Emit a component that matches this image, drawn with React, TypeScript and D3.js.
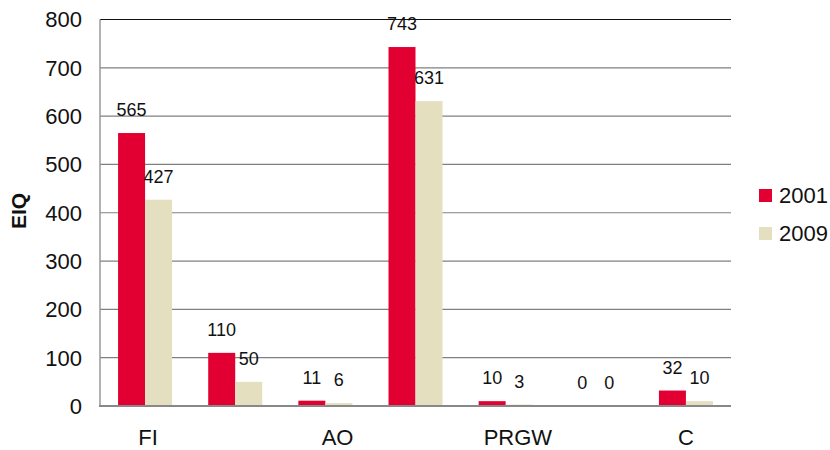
import React from "react";
import * as d3 from "d3";

const NB = "\u00A0";
const categories = [NB + "FI", "", NB.repeat(4) + "AO", "", NB.repeat(4) + "PRGW", "", "C"];
const series2001 = [565, 110, 11, 743, 10, 0, 32];
const series2009 = [427, 50, 6, 631, 3, 0, 10];
const seriesNames = ["2001", "2009"];
const seriesColors = ["#E20032", "#E3DFBF"];
const yTicks = [0, 100, 200, 300, 400, 500, 600, 700, 800];

const W = 830;
const H = 450;
const left = 100;
const right = 731;
const top = 19.5;
const bottom = 406;

export default function App() {
  const x = d3
    .scaleBand<number>()
    .domain(categories.map((_, i) => i))
    .range([left, right])
    .paddingInner(0)
    .paddingOuter(0);
  const y = d3.scaleLinear().domain([0, 800]).range([bottom, top]);
  const bw = 27;
  const data = [series2001, series2009];
  const font = "'Liberation Sans', Arial, sans-serif";

  return (
    <svg
      width={W}
      height={H}
      style={{ position: "absolute", left: 0, top: 0, background: "#fff" }}
      fontFamily={font}
    >
      {yTicks.map((t) => (
        <g key={t}>
          {t > 0 && (
            <line
              x1={left}
              x2={right}
              y1={y(t)}
              y2={y(t)}
              stroke={t === 800 ? "#111" : "#808080"}
              strokeWidth={1.2}
            />
          )}
          <text
            x={82}
            y={y(t)}
            dy="0.36em"
            textAnchor="end"
            fontSize={22}
            fill="#111"
          >
            {t}
          </text>
        </g>
      ))}
      <line x1={left} x2={left} y1={top} y2={bottom} stroke="#999" strokeWidth={1.5} />
      {data.map((s, si) =>
        s.map((v, i) => {
          const cx = x(i)! + x.bandwidth() / 2;
          const bx = cx - bw + si * bw;
          return (
            <g key={`${si}-${i}`}>
              <rect
                x={bx}
                y={y(v)}
                width={bw}
                height={bottom - y(v)}
                fill={seriesColors[si]}
              />
              <text
                x={bx + bw / 2}
                y={y(v) - 17}
                textAnchor="middle"
                fontSize={18}
                fill="#111"
              >
                {v}
              </text>
            </g>
          );
        })
      )}
      <line x1={left - 1} x2={right} y1={bottom} y2={bottom} stroke="#888" strokeWidth={2} />
      {categories.map((c, i) => (
        <text
          key={i}
          x={x(i)! + x.bandwidth() / 2}
          y={445}
          textAnchor="middle"
          fontSize={22}
          fill="#111"
        >
          {c}
        </text>
      ))}
      <text
        transform={`translate(26, 211) rotate(-90)`}
        textAnchor="middle"
        fontSize={21}
        fontWeight="bold"
        fill="#111"
      >
        EIQ
      </text>
      {seriesNames.map((n, i) => (
        <g key={n} transform={`translate(759, ${189 + i * 38})`}>
          <rect width={13} height={13} fill={seriesColors[i]} />
          <text x={20} y={14} fontSize={22} fill="#111">
            {n}
          </text>
        </g>
      ))}
    </svg>
  );
}
